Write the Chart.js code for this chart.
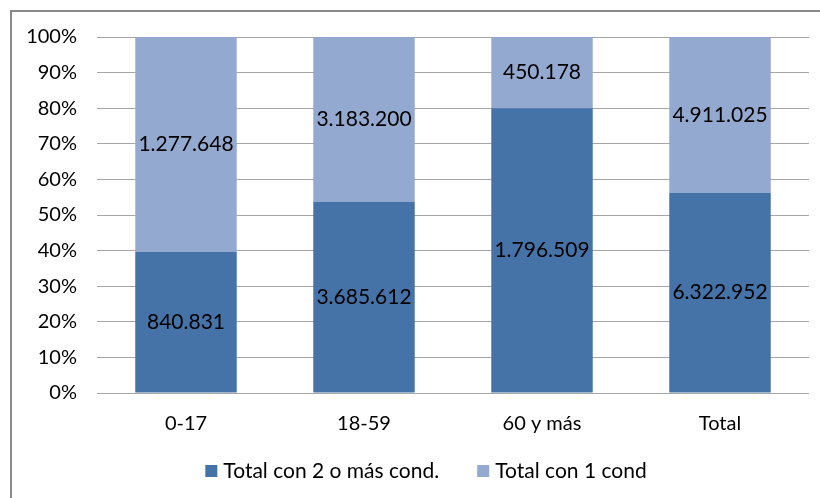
<!DOCTYPE html>
<html>
<head>
<meta charset="utf-8">
<script src="https://cdn.jsdelivr.net/npm/chart.js@4/dist/chart.umd.min.js"></script>
<style>
  html, body { margin: 0; padding: 0; background: #ffffff; }
  #wrap { width: 820px; height: 498px; }
</style>
</head>
<body>
<div id="wrap"><canvas id="c" width="820" height="498"></canvas></div>
<script>
// Population by age group and number of conditions
const categories = ['0-17', '18-59', '60 y más', 'Total'];
const seriesNames = ['Total con 2 o más cond.', 'Total con 1 cond'];
const twoOrMore = [840831, 3685612, 1796509, 6322952];
const oneCond = [1277648, 3183200, 450178, 4911025];
const yTicks = [0, 10, 20, 30, 40, 50, 60, 70, 80, 90, 100];

const FONT = 'Lato, "Open Sans", "Liberation Sans", sans-serif';

// Share of each group within its category (100% stacked)
const totals = categories.map((_, i) => twoOrMore[i] + oneCond[i]);
const pctTwo = twoOrMore.map((v, i) => v / totals[i] * 100);
const pctOne = oneCond.map((v, i) => v / totals[i] * 100);

const fmt = v => String(v).replace(/\B(?=(\d{3})+(?!\d))/g, '.');

// Writes the absolute count in the middle of each segment
const valueLabels = {
  id: 'valueLabels',
  afterDatasetsDraw(chart) {
    const ctx = chart.ctx;
    ctx.save();
    ctx.font = '21px ' + FONT;
    ctx.fillStyle = '#000000';
    ctx.textAlign = 'center';
    ctx.textBaseline = 'middle';
    const raw = [twoOrMore, oneCond];
    chart.data.datasets.forEach((ds, di) => {
      chart.getDatasetMeta(di).data.forEach((bar, i) => {
        const mid = (bar.y + bar.base) / 2;
        ctx.fillText(fmt(raw[di][i]), bar.x, mid);
      });
    });
    ctx.restore();
  }
};

// Legend row under the axis: square swatch + series name, wide gap between entries
const bottomLegend = {
  id: 'bottomLegend',
  afterDraw(chart) {
    const ctx = chart.ctx;
    const box = 12, textGap = 6, itemGap = 38;
    ctx.save();
    ctx.font = '21px ' + FONT;
    ctx.textBaseline = 'middle';
    ctx.textAlign = 'left';
    const items = chart.data.datasets.map(ds => ({
      text: ds.label, color: ds.backgroundColor, w: ctx.measureText(ds.label).width
    }));
    const total = items.reduce((s, it) => s + box + textGap + it.w, 0) + itemGap * (items.length - 1);
    const cy = 471;
    let x = 426 - total / 2;
    items.forEach(it => {
      ctx.fillStyle = it.color;
      ctx.fillRect(x, cy - box / 2, box, box);
      x += box + textGap;
      ctx.fillStyle = '#000000';
      ctx.fillText(it.text, x, cy);
      x += it.w + itemGap;
    });
    ctx.restore();
  }
};

// Frame around the chart
const frame = {
  id: 'frame',
  beforeDraw(chart) {
    const ctx = chart.ctx;
    ctx.save();
    ctx.strokeStyle = '#8a8a8a';
    ctx.lineWidth = 2;
    ctx.beginPath();
    ctx.moveTo(11, 498);
    ctx.lineTo(11, 11);
    ctx.lineTo(820, 11);
    ctx.stroke();
    ctx.restore();
  }
};

new Chart(document.getElementById('c'), {
  type: 'bar',
  data: {
    labels: categories,
    datasets: [
      { label: seriesNames[0], data: pctTwo, backgroundColor: '#4572A7' },
      { label: seriesNames[1], data: pctOne, backgroundColor: '#93A9CF' }
    ]
  },
  options: {
    responsive: false,
    animation: false,
    layout: { padding: { left: 10, right: 11, top: 37, bottom: 47 } },
    datasets: { bar: { categoryPercentage: 1, barPercentage: 0.57 } },
    scales: {
      x: {
        stacked: true,
        grid: { display: false, drawTicks: false },
        border: { display: false },
        ticks: { color: '#000000', font: { family: FONT, size: 20 }, padding: 19 },
        afterFit(scale) { scale.height = 58; }
      },
      y: {
        stacked: true,
        min: 0,
        max: 100,
        afterBuildTicks(scale) { scale.ticks = yTicks.map(v => ({ value: v })); },
        grid: { color: '#a6a6a6', lineWidth: 1, drawTicks: false },
        border: { display: false },
        ticks: {
          color: '#000000',
          font: { family: FONT, size: 20 },
          padding: 20,
          callback: v => v + '%'
        },
        afterFit(scale) { scale.width = 87; }
      }
    },
    plugins: {
      legend: { display: false },
      tooltip: { enabled: false }
    }
  },
  plugins: [frame, valueLabels, bottomLegend]
});
</script>
</body>
</html>
